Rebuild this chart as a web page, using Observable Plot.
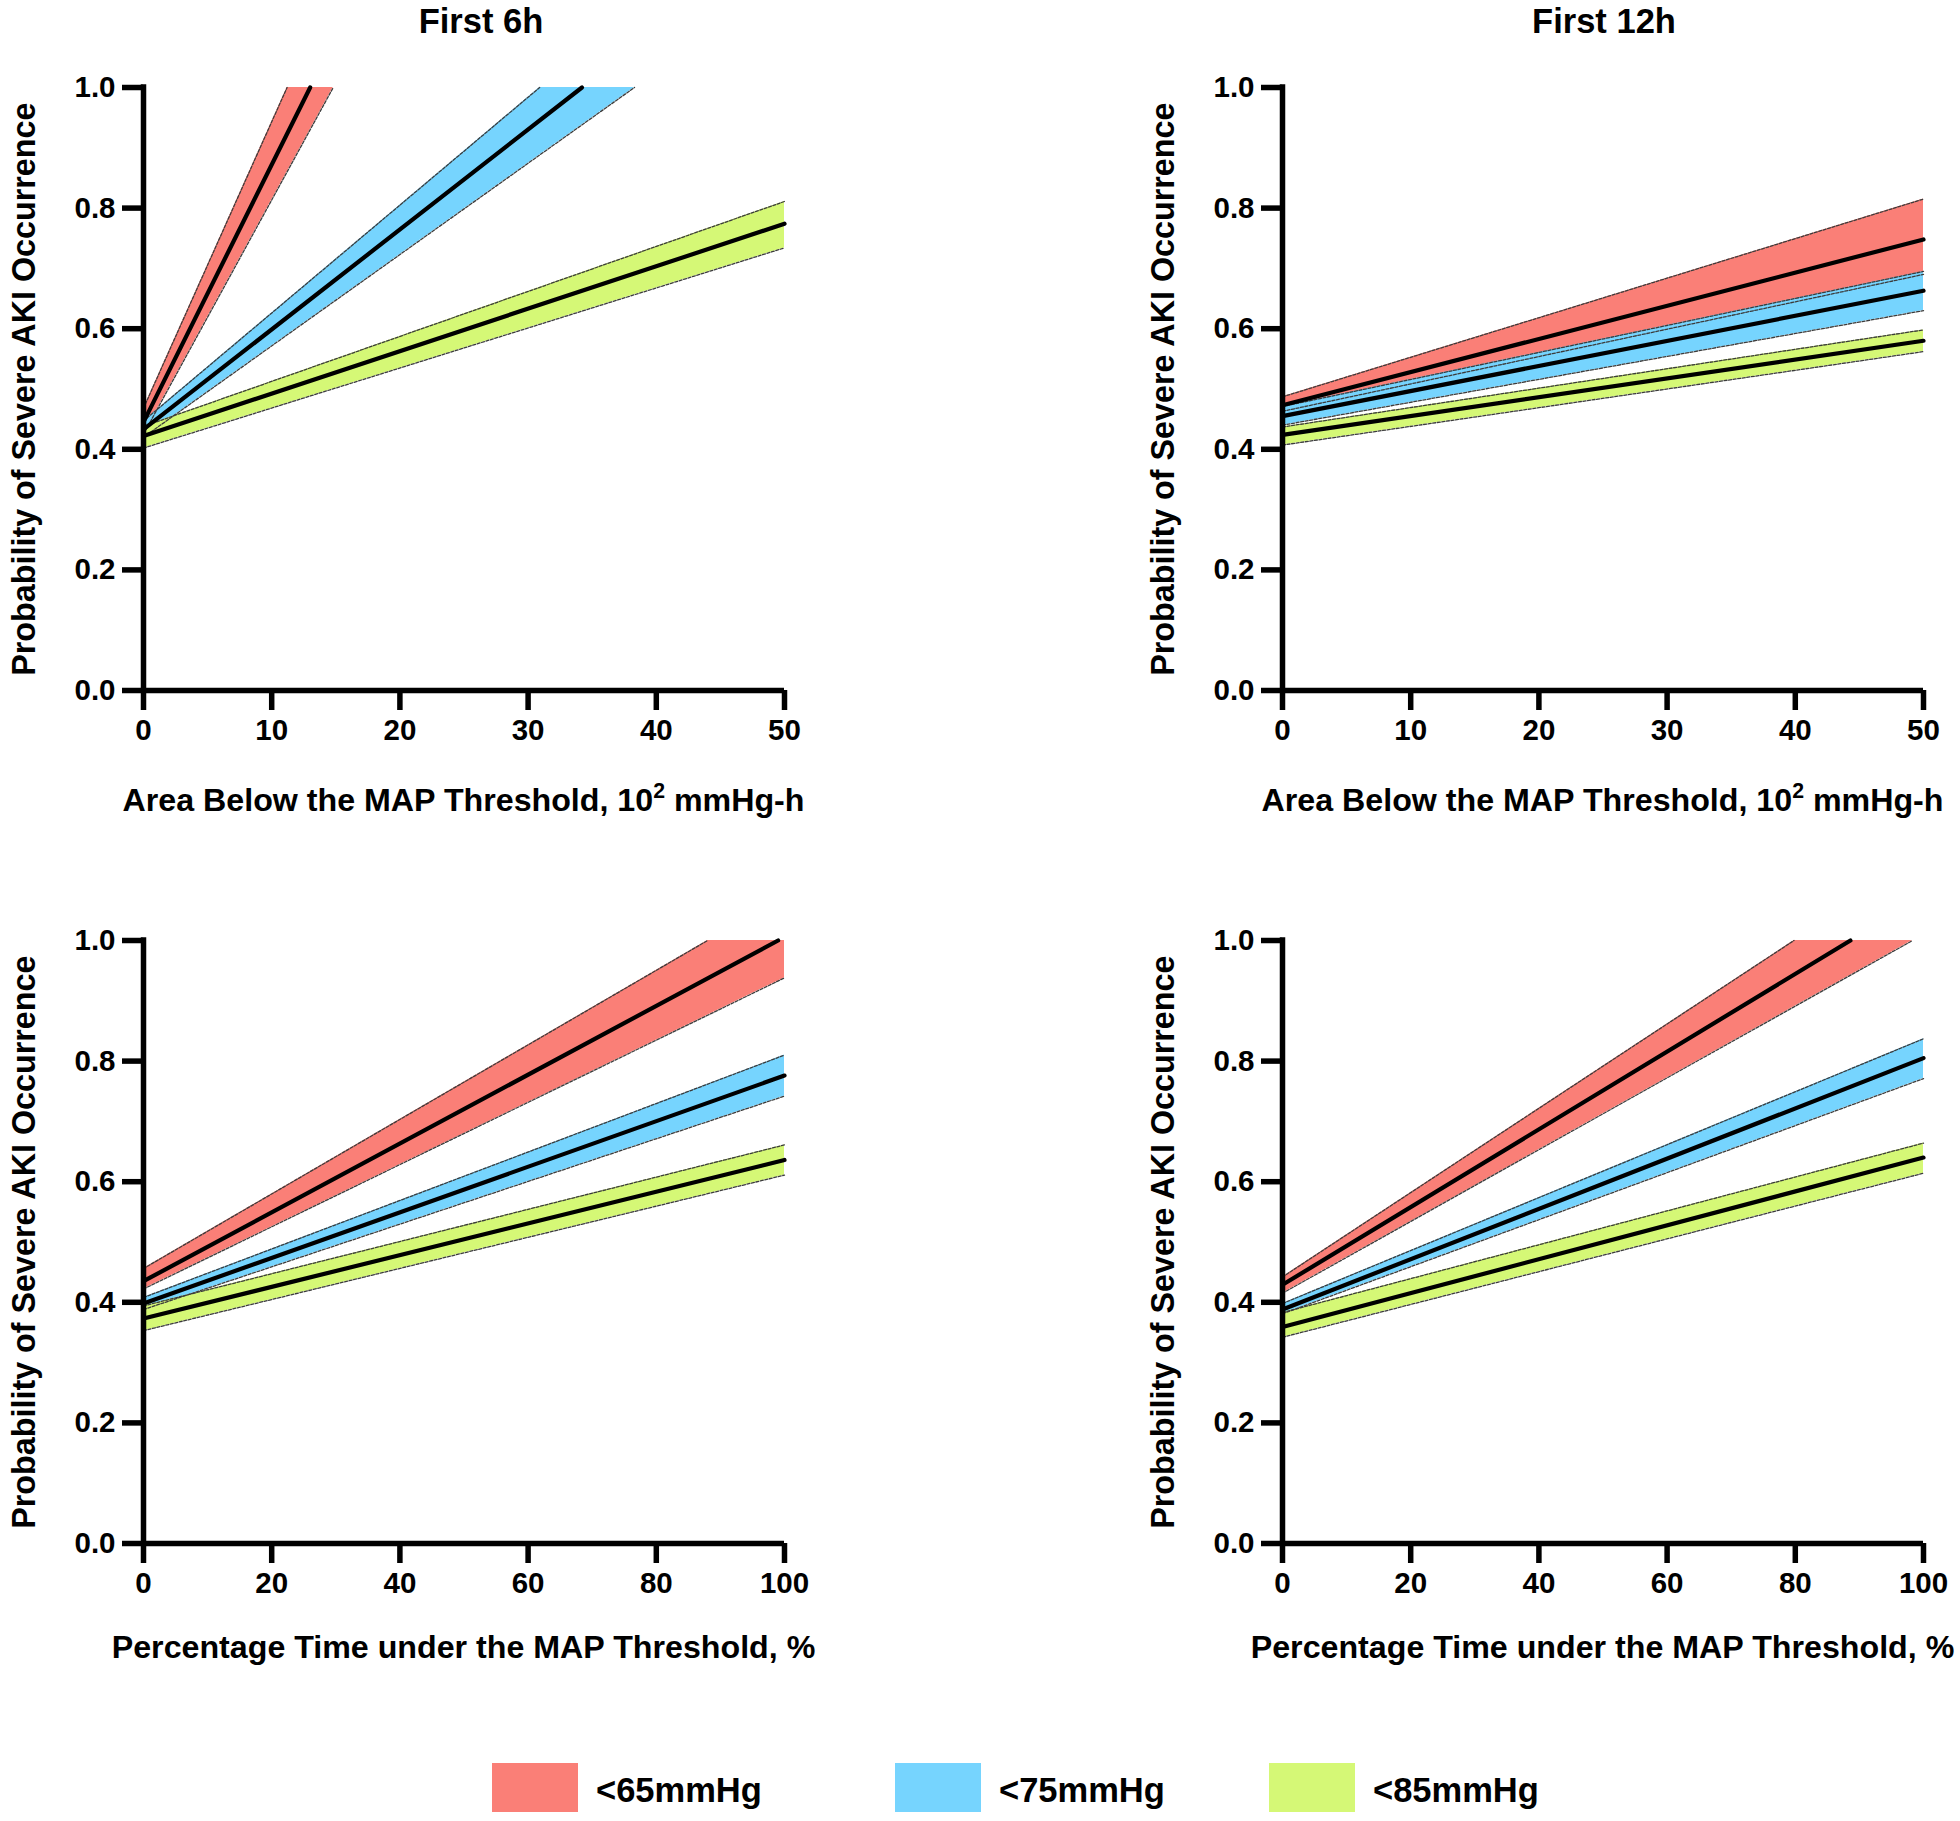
<!DOCTYPE html>
<html>
<head>
<meta charset="utf-8">
<script src="https://cdn.jsdelivr.net/npm/d3@7"></script>
<script src="https://cdn.jsdelivr.net/npm/@observablehq/plot@0.6"></script>
<style>
  html, body { margin: 0; padding: 0; background: #fff; }
  #page { position: relative; width: 1960px; height: 1821px; background: #fff; overflow: hidden;
          font-family: "Liberation Sans", Arial, Helvetica, sans-serif; font-weight: bold; color: #000; }
  .txt { position: absolute; white-space: nowrap; text-align: center; font-weight: bold; }
  .panel { position: absolute; }
  .panel svg { max-width: none !important; display: block; }
  sup { font-size: 0.66em; vertical-align: 0; position: relative; top: -0.62em; }
</style>
</head>
<body>
<div id="page"></div>
<script>
// ---------- categories, colours, ticks ----------
const thresholds = ["<65mmHg", "<75mmHg", "<85mmHg"];
const colors = ["#FA7F77", "#76D4FE", "#D5F876"];
const yTicks = [0, 0.2, 0.4, 0.6, 0.8, 1.0];
const xTicksArea = [0, 10, 20, 30, 40, 50];
const xTicksPct = [0, 20, 40, 60, 80, 100];
const colTitles = ["First 6h", "First 12h"];
const xTitleArea = "Area Below the MAP Threshold, 10<sup>2</sup> mmHg-h";
const xTitlePct = "Percentage Time under the MAP Threshold, %";
const yTitle = "Probability of Severe AKI Occurrence";

// ---------- First 6h, area below threshold ----------
const A_lineX = [[0, 13.0], [0, 34.2], [0, 50]];
const A_lineY = [[0.445, 1.0], [0.433, 1.0], [0.422, 0.774]];
const A_bandX = [[0, 11.2, 14.8], [0, 30.9, 38.3], [0, 50]];
const A_bandLo = [[0.425, 0.860, 1.0], [0.420, 0.888, 1.0], [0.402, 0.734]];
const A_bandHi = [[0.468, 1.0, 1.0], [0.447, 1.0, 1.0], [0.438, 0.811]];

// ---------- First 12h, area below threshold ----------
const B_lineX = [[0, 50], [0, 50], [0, 50]];
const B_lineY = [[0.473, 0.748], [0.455, 0.663], [0.424, 0.580]];
const B_bandX = [[0, 50], [0, 50], [0, 50]];
const B_bandLo = [[0.463, 0.690], [0.440, 0.630], [0.407, 0.562]];
const B_bandHi = [[0.487, 0.815], [0.471, 0.695], [0.437, 0.598]];

// ---------- First 6h, percentage time ----------
const C_lineX = [[0, 99], [0, 100], [0, 100]];
const C_lineY = [[0.435, 1.0], [0.398, 0.776], [0.373, 0.636]];
const C_bandX = [[0, 88, 100], [0, 100], [0, 100]];
const C_bandLo = [[0.422, 0.876, 0.938], [0.388, 0.742], [0.353, 0.611]];
const C_bandHi = [[0.456, 1.0, 1.0], [0.408, 0.810], [0.394, 0.661]];

// ---------- First 12h, percentage time ----------
const D_lineX = [[0, 88.6], [0, 100], [0, 100]];
const D_lineY = [[0.429, 1.0], [0.388, 0.805], [0.359, 0.640]];
const D_bandX = [[0, 79.8, 98.3], [0, 100], [0, 100]];
const D_bandLo = [[0.415, 0.890, 1.0], [0.381, 0.771], [0.342, 0.614]];
const D_bandHi = [[0.442, 1.0, 1.0], [0.398, 0.837], [0.383, 0.664]];

const FONT = '"Liberation Sans", Arial, Helvetica, sans-serif';
const page = document.getElementById("page");

function addText(html, {left, top, width, size, rotate}) {
  const d = document.createElement("div");
  d.className = "txt";
  d.innerHTML = html;
  d.style.left = left + "px";
  d.style.top = top + "px";
  d.style.width = width + "px";
  d.style.fontSize = size + "px";
  d.style.lineHeight = size + "px";
  d.style.height = size + "px";
  if (rotate) { d.style.transform = "rotate(-90deg)"; d.style.transformOrigin = "50% 50%"; }
  page.appendChild(d);
}

const SVG_W = 820, M_LEFT = 143, PLOT_W = 641, M_TOP = 60, PLOT_H = 603, M_BOTTOM = 80;

function panel(p) {
  const lines = [], bands = [], upper = [], lower = [];
  thresholds.forEach((t, i) => {
    p.lineX[i].forEach((x, j) => lines.push({t, x, y: p.lineY[i][j]}));
    p.bandX[i].forEach((x, j) => bands.push({t, x, lo: p.bandLo[i][j], hi: p.bandHi[i][j]}));
    let ku = p.bandHi[i].findIndex(v => v >= 1); if (ku < 0) ku = p.bandHi[i].length - 1;
    let kl = p.bandLo[i].findIndex(v => v >= 1); if (kl < 0) kl = p.bandLo[i].length - 1;
    for (let j = 0; j <= ku; j++) upper.push({t, x: p.bandX[i][j], y: p.bandHi[i][j]});
    for (let j = 0; j <= kl; j++) lower.push({t, x: p.bandX[i][j], y: p.bandLo[i][j]});
  });
  const edge = {x: "x", y: "y", z: "t", stroke: "#3c3c3c", strokeWidth: 1.3, strokeDasharray: "3,1.6"};
  const svg = Plot.plot({
    width: SVG_W, height: M_TOP + PLOT_H + M_BOTTOM,
    marginLeft: M_LEFT, marginRight: SVG_W - M_LEFT - PLOT_W, marginTop: M_TOP, marginBottom: M_BOTTOM,
    x: {domain: p.xDomain},
    y: {domain: [0, 1]},
    color: {domain: thresholds, range: colors},
    style: {fontFamily: FONT, overflow: "visible", background: "transparent", color: "#000", maxWidth: "none"},
    marks: [
      Plot.areaY(bands, {x: "x", y1: "lo", y2: "hi", z: "t", fill: "t"}),
      Plot.line(upper, edge),
      Plot.line(lower, edge),
      Plot.line(lines, {x: "x", y: "y", z: "t", stroke: "#000", strokeWidth: 4.2}),
      Plot.ruleX([p.xDomain[0]], {y1: 0, y2: 1, stroke: "#000", strokeWidth: 5.5, strokeLinecap: "square"}),
      Plot.ruleY([0], {x1: p.xDomain[0], x2: p.xDomain[1], stroke: "#000", strokeWidth: 5.5}),
      Plot.axisY({ticks: yTicks, tickSize: 21, tickPadding: 7, stroke: "#000", strokeWidth: 5.5,
                  fontSize: 29.5, fontWeight: "bold", tickFormat: d3.format(".1f"), label: null}),
      Plot.axisX({ticks: p.xTicks, tickSize: 20, tickPadding: 9, stroke: "#000", strokeWidth: 5.5,
                  fontSize: 29.5, fontWeight: "bold", tickFormat: d => String(d), label: null})
    ]
  });
  svg.style.maxWidth = "none";
  const wrap = document.createElement("div");
  wrap.className = "panel";
  wrap.style.left = p.left + "px";
  wrap.style.top = p.top + "px";
  wrap.style.width = SVG_W + "px";
  wrap.appendChild(svg);
  page.appendChild(wrap);

  // axis titles
  const axX = p.left + M_LEFT, plotTop = p.top + M_TOP;
  addText(p.xTitle, {left: axX + PLOT_W / 2 - 450, top: plotTop + PLOT_H + p.xTitleOffset - 28, width: 900, size: 32.2});
  addText(yTitle, {left: axX - 119 - 350, top: plotTop + PLOT_H / 2 - 16, width: 700, size: 32.3, rotate: true});
}

const panelDefs = [
  {left: 0,    top: 27,  xDomain: [0, 50],  xTicks: xTicksArea, xTitle: xTitleArea, xTitleOffset: 122,
   lineX: A_lineX, lineY: A_lineY, bandX: A_bandX, bandLo: A_bandLo, bandHi: A_bandHi},
  {left: 1139, top: 27,  xDomain: [0, 50],  xTicks: xTicksArea, xTitle: xTitleArea, xTitleOffset: 122,
   lineX: B_lineX, lineY: B_lineY, bandX: B_bandX, bandLo: B_bandLo, bandHi: B_bandHi},
  {left: 0,    top: 880, xDomain: [0, 100], xTicks: xTicksPct, xTitle: xTitlePct, xTitleOffset: 116,
   lineX: C_lineX, lineY: C_lineY, bandX: C_bandX, bandLo: C_bandLo, bandHi: C_bandHi},
  {left: 1139, top: 880, xDomain: [0, 100], xTicks: xTicksPct, xTitle: xTitlePct, xTitleOffset: 116,
   lineX: D_lineX, lineY: D_lineY, bandX: D_bandX, bandLo: D_bandLo, bandHi: D_bandHi}
];
panelDefs.forEach(panel);

// column titles
addText(colTitles[0], {left: 481 - 200, top: 33 - 29, width: 400, size: 34.5});
addText(colTitles[1], {left: 1604 - 200, top: 33 - 29, width: 400, size: 34.5});

// legend
const legendSquareX = [492, 895, 1269];
thresholds.forEach((t, i) => {
  const sq = document.createElement("div");
  sq.style.cssText = `position:absolute;left:${legendSquareX[i]}px;top:1763px;width:86px;height:49px;background:${colors[i]};`;
  page.appendChild(sq);
  const d = document.createElement("div");
  d.className = "txt";
  d.textContent = t;
  d.style.cssText += `left:${legendSquareX[i] + 104}px;top:${1802 - 29}px;font-size:34.5px;line-height:34px;text-align:left;`;
  page.appendChild(d);
});
</script>
</body>
</html>
